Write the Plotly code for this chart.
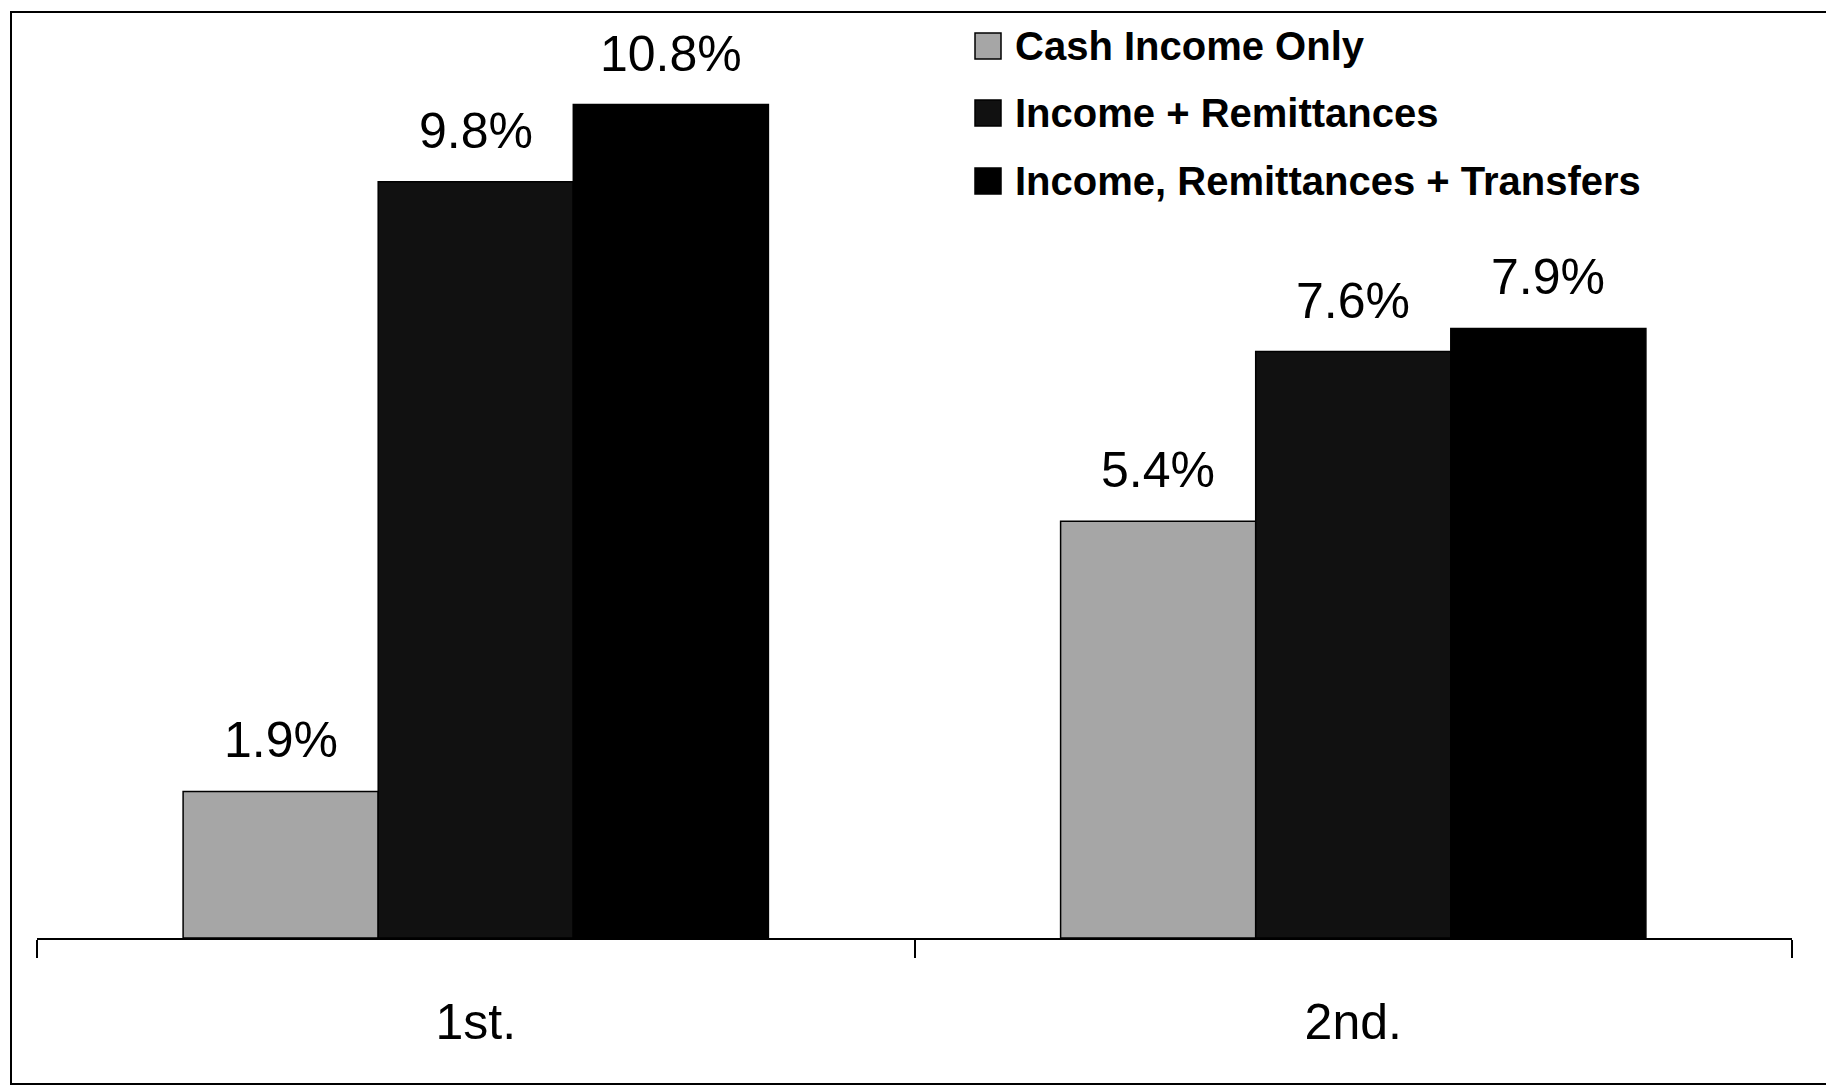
import plotly.graph_objects as go

# ---------------------------
# Data
# ---------------------------

categories = ["1st.", "2nd."]
series_names = ["Cash Income Only", "Income + Remittances", "Income, Remittances + Transfers"]
cash_income = [1.9, 5.4]
income_remit = [9.8, 7.6]
income_remit_transfers = [10.8, 7.9]
series_values = [cash_income, income_remit, income_remit_transfers]
colors = ["#a6a6a6", "#111111", "#000000"]

# ---------------------------
# Layout helpers (screen pixel -> paper)
# ---------------------------

W, H = 1834, 1086
OFF = 8  # page body margin
ML, MR, MT, MB = 29, 50, 4, 156
PW = W - ML - MR
PH = H - MT - MB
BARGAP = 0.333


def px_x(px):
    return (px - OFF - ML) / PW


def px_y(py):
    return (H - MB - (py - OFF)) / PH


FONT = "Liberation Sans, Arial, sans-serif"

fig = go.Figure()
for name, vals, col in zip(series_names, series_values, colors):
    fig.add_trace(go.Bar(
        x=categories, y=vals, name=name,
        marker=dict(color=col, line=dict(color="#000000", width=1.5)),
        showlegend=False))

# value labels above each bar
bar_w = PW / len(categories) * (1 - BARGAP) / len(series_names)
annotations = []
for i, vals in enumerate(series_values):
    shift = (i - (len(series_names) - 1) / 2) * bar_w
    for cat, v in zip(categories, vals):
        annotations.append(dict(x=cat, y=v, xref="x", yref="y",
                                text=f"{v:.1f}%", showarrow=False,
                                xanchor="center", yanchor="middle",
                                xshift=shift, yshift=51,
                                font=dict(size=50, color="#000000", family=FONT)))

# manual legend (big square keys like the original)
shapes = []
row_y = [46, 113, 181]
for name, col, ry in zip(series_names, colors, row_y):
    shapes.append(dict(type="rect", xref="paper", yref="paper",
                       x0=px_x(975), x1=px_x(1001),
                       y0=px_y(ry + 13), y1=px_y(ry - 13),
                       fillcolor=col, line=dict(color="#000000", width=1.5)))
    annotations.append(dict(xref="paper", yref="paper", x=px_x(1013), y=px_y(ry),
                            xanchor="left", yanchor="middle", showarrow=False,
                            text=f"<b>{name}</b>",
                            font=dict(size=40, color="#000000", family=FONT)))

# outer frame
shapes.append(dict(type="rect", xref="paper", yref="paper",
                   x0=px_x(11), x1=px_x(1828), y0=px_y(1084), y1=px_y(12),
                   line=dict(color="#000000", width=2), layer="below"))

fig.update_layout(
    width=W, height=H,
    margin=dict(l=ML, r=MR, t=MT, b=MB),
    barmode="group", bargap=BARGAP, bargroupgap=0,
    plot_bgcolor="white", paper_bgcolor="white",
    font=dict(family=FONT, color="#000000"),
    shapes=shapes, annotations=annotations,
    xaxis=dict(showline=True, linecolor="#000000", linewidth=2,
               ticks="outside", tickson="boundaries", ticklen=18,
               tickwidth=2, tickcolor="#000000",
               ticklabelstandoff=39,
               tickfont=dict(size=50, family=FONT, color="#000000"),
               showgrid=False, zeroline=False),
    yaxis=dict(visible=False, range=[0, 12], showgrid=False, zeroline=False),
)

fig.write_html("out.html")
